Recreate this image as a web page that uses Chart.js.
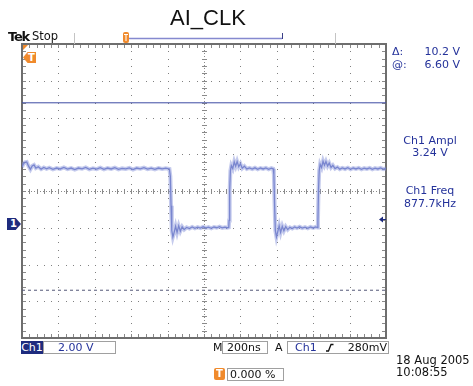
<!DOCTYPE html>
<html><head><meta charset="utf-8">
<script src="https://cdn.jsdelivr.net/npm/chart.js@4.4.1/dist/chart.umd.min.js"></script>
<style>
html,body{margin:0;padding:0;background:#fff;}
#wrap{position:relative;width:473px;height:386px;overflow:hidden;font-family:'DejaVu Sans',sans-serif;}
#scope{position:absolute;left:0;top:0;}
.t{position:absolute;white-space:nowrap;font-size:11px;line-height:11px;color:#24329a;}
.k{color:#111;}
.box{position:absolute;border:1px solid #a0a0a0;box-sizing:border-box;height:13px;}
.mk{position:absolute;color:#fff;font-weight:bold;font-size:10px;line-height:12px;}
</style></head>
<body>
<div id="wrap">
<canvas id="scope" width="473" height="386"></canvas>

<div class="t k" style="left:170px;top:7px;font-family:'Liberation Sans',Arial,sans-serif;font-size:22px;line-height:22px;">AI_CLK</div>
<div class="t k" style="left:8px;top:30px;font-weight:bold;font-size:13px;line-height:13px;letter-spacing:-1.2px;">Tek</div>
<div class="t k" style="left:32px;top:31px;font-size:11.5px;line-height:11.5px;">Stop</div>

<div class="t" style="left:392px;top:46px;">Δ:</div>
<div class="t" style="right:13px;top:46px;">10.2 V</div>
<div class="t" style="left:392px;top:59px;">@:</div>
<div class="t" style="right:13px;top:59px;">6.60 V</div>
<div class="t" style="left:380px;width:100px;text-align:center;top:135px;">Ch1 Ampl</div>
<div class="t" style="left:380px;width:100px;text-align:center;top:147px;">3.24 V</div>
<div class="t" style="left:380px;width:100px;text-align:center;top:185px;">Ch1 Freq</div>
<div class="t" style="left:380px;width:100px;text-align:center;top:198px;">877.7kHz</div>

<div class="t" style="left:21px;top:341px;width:22px;height:13px;line-height:13px;background:#1e2b7e;color:#fff;text-align:center;">Ch1</div>
<div class="box" style="left:43px;top:341px;width:73px;"></div>
<div class="t" style="left:58px;top:342px;">2.00 V</div>
<div class="t k" style="left:213px;top:342px;">M</div>
<div class="box" style="left:222px;top:341px;width:46px;"></div>
<div class="t k" style="left:227px;top:342px;">200ns</div>
<div class="t k" style="left:275px;top:342px;">A</div>
<div class="box" style="left:287px;top:341px;width:102px;"></div>
<div class="t" style="left:295px;top:342px;">Ch1</div>
<div class="t k" style="right:86px;top:342px;">280mV</div>
<div class="mk" style="left:214px;top:368px;width:11px;height:12px;background:#f08a2c;border-radius:2px;text-align:center;">T</div>
<div class="box" style="left:227px;top:368px;width:57px;"></div>
<div class="t k" style="left:230px;top:369px;">0.000 %</div>
<div class="t k" style="left:396px;top:355px;font-size:11.5px;line-height:11.5px;">18 Aug 2005</div>
<div class="t k" style="left:396px;top:367px;font-size:11.5px;line-height:11.5px;">10:08:55</div>

<div class="mk" id="gndMark" style="left:7px;width:14px;height:12px;background:#1e2b7e;clip-path:polygon(0 0,62% 0,100% 50%,62% 100%,0 100%);padding-left:3px;box-sizing:border-box;">1</div>
<div class="mk" id="trigPos" style="left:23px;top:52px;width:13px;height:11px;line-height:11px;background:#f08a2c;clip-path:polygon(0 50%,35% 0,100% 0,100% 100%,35% 100%);padding-left:5px;box-sizing:border-box;">T</div>
</div>

<script>
// screen: 200 ns/div horizontally, 2 V/div vertically
const xDivs=[0,200,400,600,800,1000,1200,1400,1600,1800,2000];
const yDivs=[-6.2,-4.2,-2.2,-0.2,1.8,3.8,5.8,7.8,9.8];
const cursorA=6.60;
const cursorB=-3.60;
const trigLevel=0.28;

// Ch1 trace, [ns, V]
const high1=[[0,3.10],[8,3.28],[16,3.36],[26,3.38],[36,3.15],[46,2.98],[56,3.16],[66,3.22],[76,3.05],[90,3.12],[105,2.99],[120,3.08],[135,3.01],[150,3.07],[170,2.98],[190,3.05],[210,3.00],[230,3.08],[250,2.99],[270,3.05],[290,2.97],[310,3.05],[330,3.01],[350,3.08],[370,2.98],[390,3.04],[410,2.99],[430,3.07],[450,2.98],[470,3.05],[490,3.00],[510,3.07],[530,2.98],[550,3.03],[570,3.00],[590,3.06],[610,2.97],[630,3.05],[650,3.01],[670,3.07],[690,2.99],[710,3.04],[730,2.98],[750,3.05],[770,3.00],[790,3.04],[810,3.00]];
const fall1=[[815,2.60],[819,1.00],[823,-0.35],[829,-0.70],[836,-0.45],[844,-0.12],[852,-0.45],[861,-0.10],[870,-0.38],[880,-0.15],[891,-0.30]];
const low1=[[905,-0.18],[920,-0.24],[935,-0.16],[950,-0.23],[965,-0.17],[980,-0.22],[995,-0.15],[1010,-0.21],[1025,-0.17],[1040,-0.23],[1055,-0.16],[1070,-0.20],[1085,-0.14],[1100,-0.21],[1115,-0.17],[1127,-0.20],[1136,-0.18]];
const rise1=[[1138,0.20],[1141,1.80],[1145,2.90],[1150,3.18],[1158,3.02],[1166,3.38],[1174,3.15],[1182,3.40],[1191,3.12],[1200,3.28],[1210,3.04],[1222,3.15],[1235,3.00]];
const high2=[[1250,3.06],[1265,2.99],[1280,3.06],[1295,2.98],[1310,3.05],[1325,3.00],[1340,3.06],[1355,2.98],[1370,3.04],[1380,3.01]];
const fall2=[[1384,2.70],[1388,1.00],[1392,-0.35],[1398,-0.70],[1405,-0.42],[1413,-0.10],[1421,-0.45],[1430,-0.12],[1439,-0.36],[1449,-0.14],[1460,-0.30]];
const low2=[[1472,-0.18],[1485,-0.24],[1498,-0.16],[1511,-0.22],[1525,-0.15],[1540,-0.22],[1555,-0.17],[1570,-0.23],[1585,-0.16],[1600,-0.21],[1614,-0.15],[1624,-0.19]];
const rise2=[[1626,0.20],[1629,1.80],[1633,2.90],[1638,3.25],[1646,3.08],[1654,3.42],[1662,3.20],[1670,3.40],[1679,3.16],[1688,3.32],[1698,3.08],[1708,3.20]];
const high3=[[1720,3.02],[1733,3.10],[1746,2.99],[1760,3.06],[1775,3.00],[1790,3.07],[1805,2.98],[1820,3.05],[1835,3.00],[1850,3.06],[1865,2.98],[1880,3.04],[1895,3.00],[1910,3.06],[1925,2.98],[1940,3.04],[1955,3.00],[1970,3.06],[1985,2.99],[2000,3.03]];

const trace=[...high1,...fall1,...low1,...rise1,...high2,...fall2,...low2,...rise2,...high3].map(p=>({x:p[0],y:p[1]}));
const X0=xDivs[0],X1=xDivs[xDivs.length-1],Y0=yDivs[0],Y1=yDivs[yDivs.length-1];

// minor positions, 5 per division
const minors=divs=>{
  const out=[];
  for(let i=0;i<divs.length-1;i++)for(let k=0;k<5;k++)out.push(divs[i]+(divs[i+1]-divs[i])*k/5);
  out.push(divs[divs.length-1]);
  return out;
};

const graticule={
  id:'graticule',
  beforeDatasetsDraw(chart){
    const{ctx,chartArea:a,scales:{x,y}}=chart;
    const xm=minors(xDivs).map(v=>Math.round(x.getPixelForValue(v)));
    const ym=minors(yDivs).map(v=>Math.round(y.getPixelForValue(v)));
    const cx=xm[25],cy=ym[20];
    ctx.save();
    // dotted division lines
    ctx.fillStyle='#808080';
    xDivs.slice(1,-1).forEach(v=>{
      const px=Math.round(x.getPixelForValue(v));
      if(px===cx)return;
      ym.forEach(py=>ctx.fillRect(px,py,1,1));
    });
    yDivs.slice(1,-1).forEach(v=>{
      const py=Math.round(y.getPixelForValue(v));
      if(py===cy)return;
      xm.forEach(px=>ctx.fillRect(px,py,1,1));
    });
    // centre cross with minor ticks
    ctx.strokeStyle='#8a8a8a';ctx.lineWidth=1;
    ctx.setLineDash([1,2]);
    ctx.beginPath();
    ctx.moveTo(a.left,cy+0.5);ctx.lineTo(a.right,cy+0.5);
    ctx.moveTo(cx+0.5,a.top);ctx.lineTo(cx+0.5,a.bottom);
    ctx.stroke();
    ctx.setLineDash([]);
    ctx.beginPath();
    xm.forEach(px=>{ctx.moveTo(px+0.5,cy-2);ctx.lineTo(px+0.5,cy+3);});
    ym.forEach(py=>{ctx.moveTo(cx-2,py+0.5);ctx.lineTo(cx+3,py+0.5);});
    // edge ticks
    xm.forEach(px=>{
      ctx.moveTo(px+0.5,a.top);ctx.lineTo(px+0.5,a.top+4);
      ctx.moveTo(px+0.5,a.bottom);ctx.lineTo(px+0.5,a.bottom-4);
    });
    ym.forEach(py=>{
      ctx.moveTo(a.left,py+0.5);ctx.lineTo(a.left+4,py+0.5);
      ctx.moveTo(a.right,py+0.5);ctx.lineTo(a.right-4,py+0.5);
    });
    ctx.stroke();
    // frame
    ctx.strokeStyle='#6e6e6e';ctx.lineWidth=2;
    ctx.strokeRect(a.left,a.top,a.right-a.left,a.bottom-a.top);
    ctx.restore();
  },
  afterDraw(chart){
    const{ctx,chartArea:a,scales:{x,y}}=chart;
    ctx.save();
    // corner trigger flag
    ctx.fillStyle='#f08a2c';
    ctx.beginPath();ctx.moveTo(a.left+1,a.top+1);ctx.lineTo(a.left+6,a.top+1);ctx.lineTo(a.left+1,a.top+6);ctx.closePath();ctx.fill();
    // trigger level arrow
    const ty=Math.round(y.getPixelForValue(trigLevel))+0.5;
    ctx.fillStyle='#1e2b7e';ctx.strokeStyle='#1e2b7e';ctx.lineWidth=1;
    ctx.beginPath();ctx.moveTo(a.right-7,ty);ctx.lineTo(a.right-3,ty-3);ctx.lineTo(a.right-3,ty+3);ctx.closePath();ctx.fill();
    ctx.beginPath();ctx.moveTo(a.right-4,ty);ctx.lineTo(a.right,ty);ctx.stroke();
    // record bar above the screen
    ctx.strokeStyle='#c4c4c4';
    ctx.beginPath();ctx.moveTo(74.5,33);ctx.lineTo(74.5,a.top);ctx.moveTo(335.5,33);ctx.lineTo(335.5,a.top);ctx.stroke();
    ctx.strokeStyle='#8589cf';ctx.lineWidth=1.5;
    ctx.beginPath();ctx.moveTo(128,38.5);ctx.lineTo(282,38.5);ctx.stroke();
    ctx.strokeStyle='#3a3f86';ctx.lineWidth=1;
    ctx.beginPath();ctx.moveTo(282.5,33);ctx.lineTo(282.5,39);ctx.stroke();
    ctx.fillStyle='#f08a2c';
    ctx.beginPath();ctx.roundRect(123,32,6,11,2);ctx.fill();
    ctx.fillStyle='#fff';ctx.fillRect(124,34,4,1);ctx.fillRect(125.5,34,1,7);
    // rising-edge slope symbol
    ctx.strokeStyle='#111';ctx.lineWidth=1.3;
    ctx.beginPath();ctx.moveTo(326,351);ctx.lineTo(328.5,351);ctx.lineTo(331,344.5);ctx.lineTo(333.5,344.5);ctx.stroke();
    ctx.restore();
  }
};

const chart=new Chart(document.getElementById('scope'),{
  type:'line',
  plugins:[graticule],
  data:{datasets:[
    {data:trace,borderColor:'rgba(140,152,220,0.5)',borderWidth:4,pointRadius:0,tension:0},
    {data:trace,borderColor:'rgba(88,102,188,0.9)',borderWidth:1.3,pointRadius:0,tension:0},
    {data:[{x:X0,y:cursorA},{x:X1,y:cursorA}],borderColor:'#3d4aa3',borderWidth:1,pointRadius:0},
    {data:[{x:X0,y:cursorB},{x:X1,y:cursorB}],borderColor:'#545878',borderWidth:1,borderDash:[3,3],pointRadius:0}
  ]},
  options:{
    responsive:false,animation:false,events:[],
    layout:{padding:{left:22,top:44,right:87,bottom:48}},
    plugins:{legend:{display:false},tooltip:{enabled:false}},
    scales:{
      x:{type:'linear',min:X0,max:X1,display:false},
      y:{type:'linear',min:Y0,max:Y1,display:false}
    }
  }
});

const gy=chart.scales.y.getPixelForValue(0);
document.getElementById('gndMark').style.top=(Math.round(gy)-6)+'px';
</script>
</body></html>
